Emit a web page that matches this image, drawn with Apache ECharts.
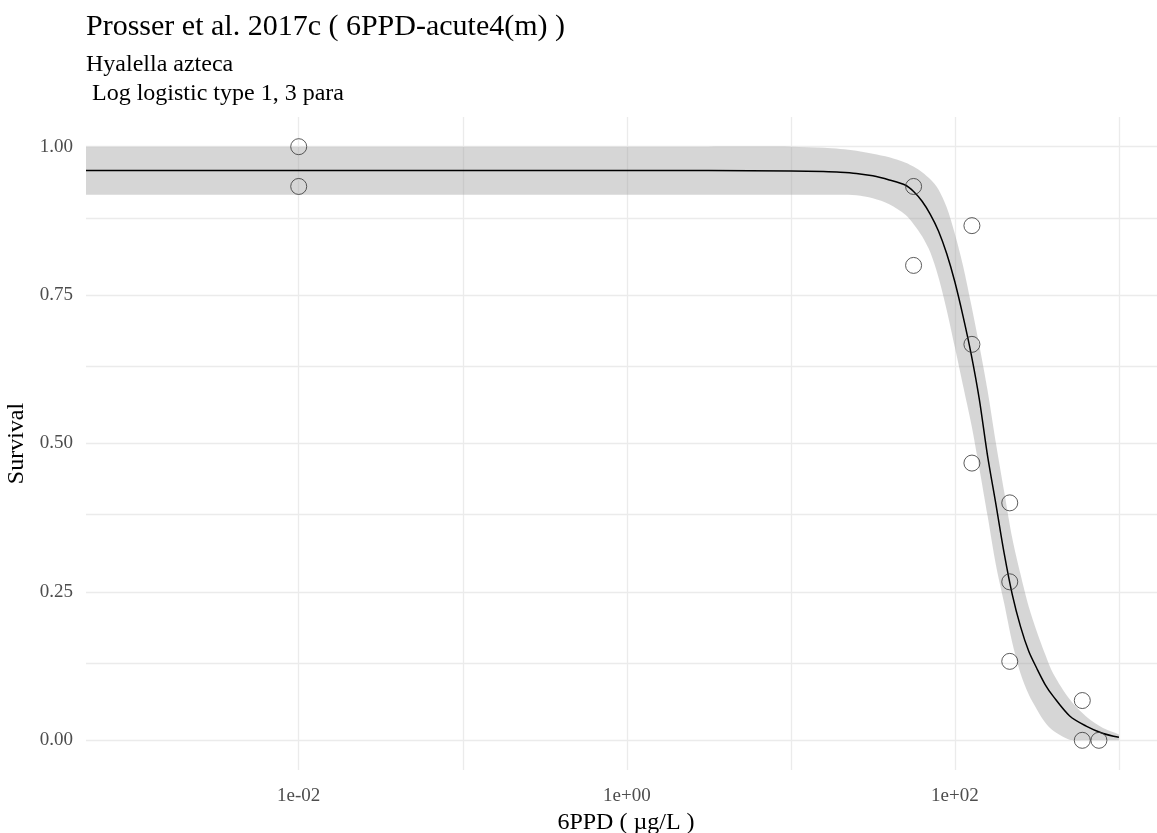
<!DOCTYPE html>
<html>
<head>
<meta charset="utf-8">
<script src="https://cdn.jsdelivr.net/npm/echarts@6/dist/echarts.min.js"></script>
<style>
html,body{margin:0;padding:0;background:#fff;}
#chart{width:1157px;height:833px;}
</style>
</head>
<body>
<div id="chart"></div>
<script>
// Fitted curve (concentration, µg/L) and read-off values
const fitConc = [0.000505, 0.001, 0.01, 0.1, 1, 3.16, 10, 15.8, 20.0, 25.1, 31.6, 39.8, 50.1, 56.2, 63.1, 70.8, 79.4, 89.1, 100, 112, 126, 141, 158, 178, 200, 224, 251, 282, 316, 355, 398, 501, 631, 794, 1000];
const fitSurvival = [0.96, 0.96, 0.96, 0.96, 0.96, 0.96, 0.959, 0.958, 0.957, 0.955, 0.951, 0.944, 0.935, 0.924, 0.908, 0.886, 0.858, 0.820, 0.772, 0.715, 0.649, 0.574, 0.480, 0.397, 0.314, 0.245, 0.192, 0.150, 0.121, 0.094, 0.074, 0.041, 0.024, 0.012, 0.005];
const ciUpper = [1.0, 1.0, 1.0, 1.0, 1.0, 1.0, 1.0, 0.998, 0.996, 0.993, 0.988, 0.982, 0.973, 0.966, 0.957, 0.945, 0.928, 0.898, 0.853, 0.800, 0.733, 0.665, 0.590, 0.500, 0.418, 0.340, 0.280, 0.225, 0.183, 0.145, 0.112, 0.069, 0.040, 0.021, 0.010];
const ciLower = [0.919, 0.919, 0.919, 0.919, 0.919, 0.919, 0.919, 0.919, 0.919, 0.918, 0.913, 0.903, 0.885, 0.869, 0.849, 0.822, 0.780, 0.725, 0.662, 0.598, 0.532, 0.458, 0.379, 0.295, 0.230, 0.164, 0.113, 0.077, 0.052, 0.030, 0.016, 0.001, 0.0, 0.0, 0.0];
// Observations
const obsConc = [0.01, 0.01, 56, 56, 127, 127, 127, 216, 216, 216, 598, 598, 755];
const obsSurvival = [1.0, 0.933, 0.933, 0.8, 0.867, 0.667, 0.467, 0.4, 0.267, 0.133, 0.067, 0, 0];
// Axis ticks / grid
const xGridValues = [0.001, 0.01, 0.1, 1, 10, 100, 1000];
const yGridValues = [0, 0.125, 0.25, 0.375, 0.5, 0.625, 0.75, 0.875, 1.0];
const yTickValues = [0, 0.25, 0.5, 0.75, 1.0];

const FONT = '"Liberation Serif", "Times New Roman", serif';

const fitData = fitConc.map((x, i) => [x, fitSurvival[i]]);
const obsData = obsConc.map((x, i) => [x, obsSurvival[i]]);
const gridLines = xGridValues.map(v => ({xAxis: v})).concat(yGridValues.map(v => ({yAxis: v})));

const chart = echarts.init(document.getElementById('chart'));
chart.setOption({
  animation: false,
  backgroundColor: '#ffffff',
  title: {
    left: 86, top: 12, padding: 0, itemGap: 8,
    text: 'Prosser et al. 2017c ( 6PPD-acute4(m) )',
    textStyle: {fontFamily: FONT, fontSize: 30, fontWeight: 'normal', color: '#000', lineHeight: 30},
    subtext: 'Hyalella azteca\n Log logistic type 1, 3 para',
    subtextStyle: {fontFamily: FONT, fontSize: 24, color: '#000', lineHeight: 29}
  },
  grid: {left: 86, top: 117, width: 1080, height: 653, outerBoundsMode: 'none', containLabel: false},
  xAxis: {
    type: 'log', logBase: 10, min: 0.000505, max: 1936,
    axisLine: {show: false}, axisTick: {show: false}, splitLine: {show: false}, minorSplitLine: {show: false},
    axisLabel: {
      fontFamily: FONT, fontSize: 19, color: '#4d4d4d', margin: 17,
      showMinLabel: true, showMaxLabel: true, hideOverlap: false,
      formatter: function (v) {
        const l = Math.log10(v); const r = Math.round(l);
        if (Math.abs(l - r) > 1e-6 || Math.abs(r) % 2 !== 0) return '';
        return '1e' + (r < 0 ? '-' : '+') + String(Math.abs(r)).padStart(2, '0');
      }
    },
    name: '6PPD ( µg/L )', nameLocation: 'middle', nameGap: 41,
    nameTextStyle: {fontFamily: FONT, fontSize: 24, color: '#000'}
  },
  yAxis: {
    type: 'value', min: -0.05, max: 1.05,
    axisLine: {show: false}, axisTick: {show: false}, splitLine: {show: false},
    axisLabel: {
      fontFamily: FONT, fontSize: 19, color: '#4d4d4d', margin: 13,
      customValues: yTickValues,
      formatter: v => v.toFixed(2)
    },
    name: 'Survival', nameLocation: 'middle', nameGap: 53, nameRotate: 90,
    nameTextStyle: {fontFamily: FONT, fontSize: 24, color: '#000'}
  },
  series: [
    {
      name: 'grid', type: 'line', data: [], z: 0, silent: true,
      markLine: {
        silent: true, z: 0, symbol: ['none', 'none'], animation: false,
        label: {show: false}, emphasis: {disabled: true},
        lineStyle: {color: '#ebebeb', width: 1.3, type: 'solid'},
        data: gridLines
      }
    },
    {
      name: 'band', type: 'custom', silent: true, z: 1, clip: true,
      data: [[fitConc[0], ciUpper[0]]],
      renderItem: function (params, api) {
        const n = fitConc.length;
        const up = [], lo = [];
        for (let i = 0; i < n; i++) up.push(api.coord([fitConc[i], ciUpper[i]]));
        for (let i = n - 1; i >= 0; i--) lo.push(api.coord([fitConc[i], ciLower[i]]));
        // duplicate end vertices so smoothing keeps the ends square
        const pts = [up[0]].concat(up, [up[n - 1]], [lo[0]], lo, [lo[n - 1]]);
        return {
          type: 'polygon',
          shape: {points: pts, smooth: 0.3},
          style: {fill: 'rgba(153,153,153,0.4)', stroke: null}
        };
      }
    },
    {
      name: 'fit', type: 'line', data: fitData, symbol: 'none', silent: true, z: 3, smooth: 0.3,
      lineStyle: {color: '#000', width: 1.5}
    },
    {
      name: 'obs', type: 'scatter', data: obsData, symbol: 'circle', symbolSize: 16, z: 4,
      itemStyle: {color: 'rgba(0,0,0,0)', borderColor: '#333', borderWidth: 1}
    }
  ]
});
</script>
</body>
</html>
